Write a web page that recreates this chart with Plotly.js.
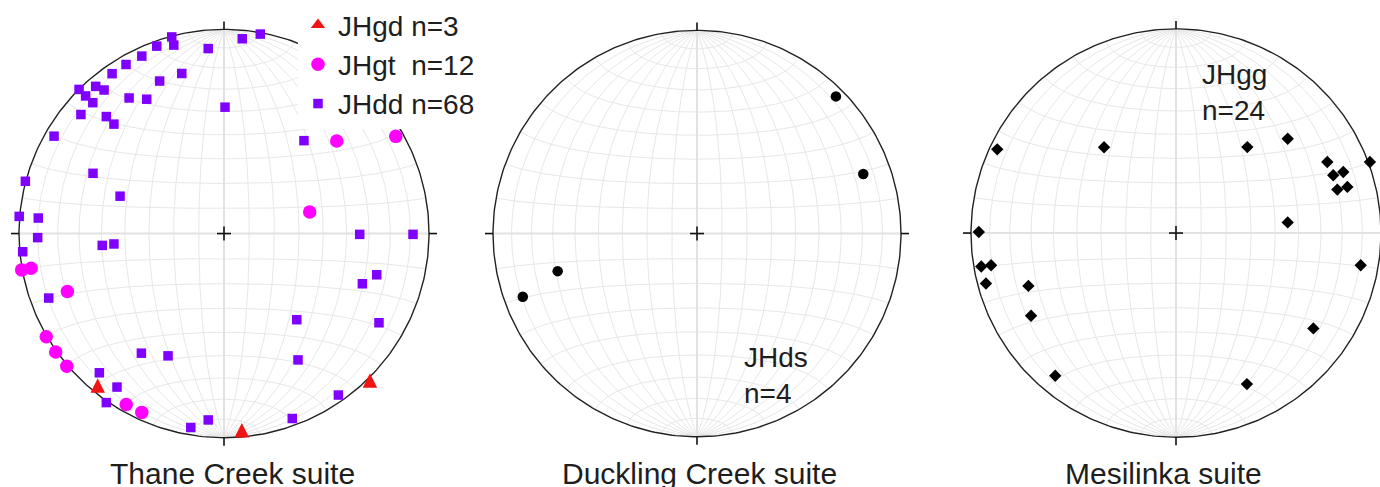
<!DOCTYPE html>
<html><head><meta charset="utf-8">
<script src="https://cdn.plot.ly/plotly-3.0.1.min.js"></script>
<style>html,body{margin:0;padding:0;background:#fff;overflow:hidden}#chart{width:1380px;height:487px}</style>
</head><body><div id="chart"></div>
<script>
// ---- data: equal-area (Schmidt) projected positions, unit-circle coords (x east, y north)
const jhgdX = [-0.616, 0.087, 0.712];
const jhgdY = [-0.744, -0.963, -0.720];

const jhgtX = [0.550, 0.838, 0.418, -0.987, -0.941, -0.764, -0.867, -0.821, -0.767, -0.477, -0.401];
const jhgtY = [0.453, 0.476, 0.106, -0.178, -0.170, -0.284, -0.506, -0.580, -0.650, -0.837, -0.876];

const jhddX = [-0.255, -0.328, -0.245, -0.077, 0.089, 0.177, -0.401, -0.478, -0.546, -0.206,
               -0.314, -0.707, -0.626, -0.585, -0.675, -0.640, -0.463, -0.377, -0.698, -0.574,
               -0.537, 0.005, -0.829, 0.390, -0.969, -0.639, -0.507, -0.999, -0.906, -0.909,
               -0.594, -0.537, -0.982, 0.662, 0.922, 0.745, 0.675, -0.855, 0.355, 0.756,
               -0.403, -0.273, 0.361, -0.608, -0.522, -0.574, 0.558, -0.077, -0.162, 0.333];
const jhddY = [0.963, 0.918, 0.923, 0.906, 0.954, 0.977, 0.869, 0.828, 0.783, 0.784,
               0.747, 0.706, 0.721, 0.703, 0.674, 0.641, 0.664, 0.658, 0.583, 0.573,
               0.536, 0.619, 0.477, 0.455, 0.256, 0.295, 0.183, 0.084, 0.076, -0.020,
               -0.058, -0.051, -0.089, -0.004, -0.004, -0.202, -0.246, -0.316, -0.422, -0.437,
               -0.586, -0.599, -0.619, -0.682, -0.752, -0.828, -0.791, -0.913, -0.950, -0.906];

const jhdsX = [0.681, 0.815, -0.683, -0.854];
const jhdsY = [0.675, 0.293, -0.185, -0.311];

const jhggX = [-0.872, -0.351, 0.348, 0.545, 0.738, 0.946, 0.767, 0.816, 0.787, 0.836, 0.545,
               -0.962, -0.950, -0.902, -0.927, -0.720, -0.707, 0.901, 0.670, -0.589, 0.346];
const jhggY = [0.410, 0.420, 0.421, 0.462, 0.348, 0.348, 0.283, 0.299, 0.213, 0.226, 0.052,
               0.005, -0.164, -0.158, -0.247, -0.259, -0.405, -0.158, -0.467, -0.699, -0.740];

const legendNames = ['JHgd n=3', 'JHgt\u00a0 n=12', 'JHdd n=68'];
const suiteLabels = ['Thane Creek suite', 'Duckling Creek suite', 'Mesilinka suite'];
const netLabels = ['JHds<br>n=4', 'JHgg<br>n=24'];

// ---- layout geometry (pixels)
const W = 1380, H = 487;
const nets = [
  {cx: 224,  cy: 232.5, R: 205, x0: 0,   x1: 460},
  {cx: 697,  cy: 232.5, R: 204, x0: 460, x1: 937},
  {cx: 1176, cy: 232,   R: 205, x0: 937, x1: 1380}
];
const FONT = 'Liberation Sans, Arial, Helvetica, sans-serif';
const TXT = '#1e1e1e';

// ---- Schmidt net grid
function proj(lat, lon) {
  const p = lat * Math.PI / 180, l = lon * Math.PI / 180;
  const x = Math.cos(p) * Math.sin(l), y = Math.sin(p), z = Math.cos(p) * Math.cos(l);
  const k = 1 / Math.sqrt(1 + z);
  return [x * k, y * k];
}
function gridLines() {
  const gx = [], gy = [];
  for (let lon = -80; lon <= 80; lon += 10) {
    if (lon === 0) continue;
    for (let lat = -90; lat <= 90; lat += 1) { const q = proj(lat, lon); gx.push(q[0]); gy.push(q[1]); }
    gx.push(null); gy.push(null);
  }
  for (let lat = -80; lat <= 80; lat += 10) {
    if (lat === 0) continue;
    for (let lon = -90; lon <= 90; lon += 1) { const q = proj(lat, lon); gx.push(q[0]); gy.push(q[1]); }
    gx.push(null); gy.push(null);
  }
  return [gx, gy];
}
const G = gridLines();
const circX = [], circY = [];
for (let t = 0; t <= 360; t += 1) { circX.push(Math.cos(t * Math.PI / 180)); circY.push(Math.sin(t * Math.PI / 180)); }

const traces = [];
const shapes = [];
const layout = {
  width: W, height: H, margin: {l: 0, r: 0, t: 0, b: 0},
  paper_bgcolor: '#fff', plot_bgcolor: 'rgba(0,0,0,0)',
  showlegend: true, hovermode: false,
  font: {family: FONT, color: TXT},
  legend: {x: 298 / W, y: 1.004, xanchor: 'left', yanchor: 'top', bgcolor: '#ffffff', borderwidth: 0,
           font: {family: FONT, size: 28, color: TXT}, itemwidth: 30, tracegroupgap: 0},
  annotations: [], shapes: shapes
};

nets.forEach((n, i) => {
  const sfx = i === 0 ? '' : String(i + 1);
  const xa = 'x' + sfx, ya = 'y' + sfx;
  layout['xaxis' + sfx] = {domain: [n.x0 / W, n.x1 / W], range: [(n.x0 - n.cx) / n.R, (n.x1 - n.cx) / n.R],
                           visible: false, fixedrange: true, anchor: ya};
  layout['yaxis' + sfx] = {domain: [0, 1], range: [-(H - n.cy) / n.R, n.cy / n.R],
                           visible: false, fixedrange: true, anchor: xa};
  traces.push({type: 'scatter', mode: 'lines', x: G[0], y: G[1], xaxis: xa, yaxis: ya,
               line: {color: '#e7e7e7', width: 1}, showlegend: false, hoverinfo: 'skip'});
  traces.push({type: 'scatter', mode: 'lines', x: [-1, 1, null, 0, 0], y: [0, 0, null, -1, 1], xaxis: xa, yaxis: ya,
               line: {color: '#e2e2e2', width: 2}, showlegend: false, hoverinfo: 'skip'});
  traces.push({type: 'scatter', mode: 'lines', x: circX, y: circY, xaxis: xa, yaxis: ya,
               line: {color: '#222', width: 1.4}, showlegend: false, hoverinfo: 'skip'});
  const a = 7 / n.R, t0 = 1, t1 = 1 + 8 / n.R;
  const segs = [[-a, 0, a, 0], [0, -a, 0, a], [0, t0, 0, t1], [0, -t0, 0, -t1], [t0, 0, t1, 0], [-t0, 0, -t1, 0]];
  segs.forEach(s => shapes.push({type: 'line', xref: xa, yref: ya, x0: s[0], y0: s[1], x1: s[2], y1: s[3],
                                 line: {color: '#111', width: 1.6}, layer: 'above'}));
});

// legend entry for the triangle series (centred up-triangle symbol in the legend)
traces.push({type: 'scatter', mode: 'markers', name: legendNames[0], x: [null], y: [null], xaxis: 'x', yaxis: 'y',
             legendgroup: 'jhgd', marker: {symbol: 'triangle-up', size: 12.5, color: '#f01414', line: {width: 0}}});
// data traces
traces.push({type: 'scatter', mode: 'markers', name: legendNames[0], x: jhgdX, y: jhgdY, xaxis: 'x', yaxis: 'y',
             legendgroup: 'jhgd', showlegend: false,
             marker: {symbol: 'arrow-down', angle: 180, standoff: 7.25, size: 14.5, color: '#f01414', line: {width: 0}}});
traces.push({type: 'scatter', mode: 'markers', name: legendNames[1], x: jhgtX, y: jhgtY, xaxis: 'x', yaxis: 'y',
             marker: {symbol: 'circle', size: 13.5, color: '#ff00ff', line: {width: 0}}});
traces.push({type: 'scatter', mode: 'markers', name: legendNames[2], x: jhddX, y: jhddY, xaxis: 'x', yaxis: 'y',
             marker: {symbol: 'square', size: 9.5, color: '#7f00ff', line: {width: 0}}});
traces.push({type: 'scatter', mode: 'markers', name: 'JHds', x: jhdsX, y: jhdsY, xaxis: 'x2', yaxis: 'y2',
             marker: {symbol: 'circle', size: 10.5, color: '#000'}, showlegend: false});
traces.push({type: 'scatter', mode: 'markers', name: 'JHgg', x: jhggX, y: jhggY, xaxis: 'x3', yaxis: 'y3',
             marker: {symbol: 'diamond', size: 9.5, color: '#000'}, showlegend: false});

// text
const labelX = [232, 699.5, 1163];
suiteLabels.forEach((s, i) => layout.annotations.push({text: s, xref: 'paper', yref: 'paper', x: labelX[i] / W,
  y: 1 - 473 / H, xanchor: 'center', yanchor: 'middle', showarrow: false, font: {family: FONT, size: 30, color: TXT}}));
layout.annotations.push({text: netLabels[0], xref: 'paper', yref: 'paper', x: 742 / W, y: 1 - 375 / H,
  xanchor: 'left', yanchor: 'middle', align: 'left', showarrow: false, font: {family: FONT, size: 28, color: TXT}});
layout.annotations.push({text: netLabels[1], xref: 'paper', yref: 'paper', x: 1199.5 / W, y: 1 - 90.5 / H,
  xanchor: 'left', yanchor: 'middle', align: 'left', showarrow: false, font: {family: FONT, size: 28, color: TXT}});

Plotly.newPlot('chart', traces, layout, {staticPlot: true, displayModeBar: false});
</script></body></html>
